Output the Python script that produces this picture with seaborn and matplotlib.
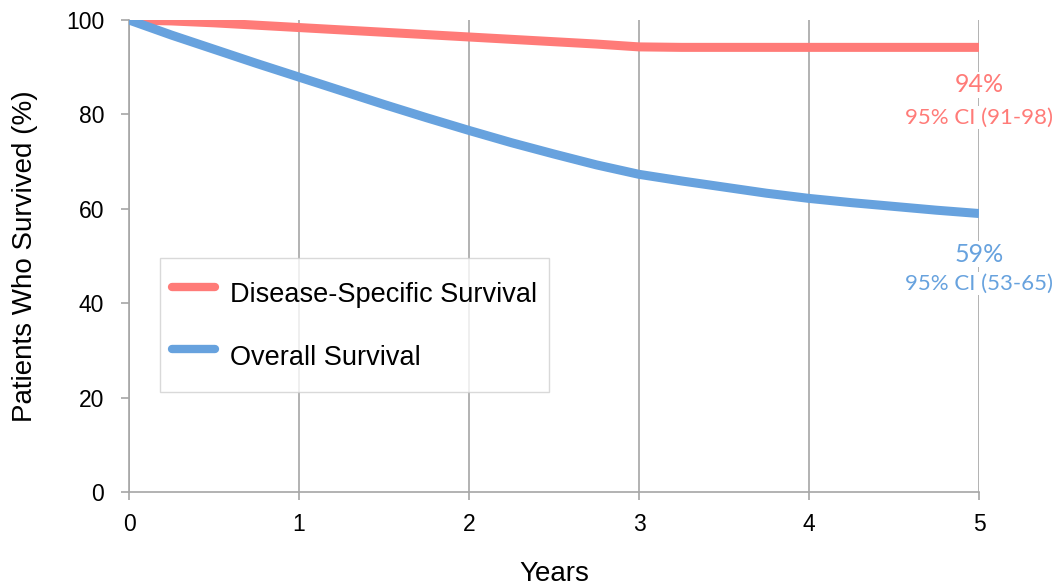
import numpy as np
import pandas as pd
import matplotlib
matplotlib.use("Agg")
import matplotlib.pyplot as plt
import seaborn as sns

years = [0, 0.25, 0.5, 0.75, 1.0, 1.25, 1.5, 1.75, 2.0, 2.25, 2.5, 2.75,
         3.0, 3.25, 3.5, 3.75, 4.0, 4.25, 4.5, 4.75, 5.0]
dss = [100, 99.8, 99.4, 98.9, 98.4, 97.9, 97.4, 96.9, 96.4, 95.9, 95.4, 94.9,
       94.3, 94.2, 94.2, 94.2, 94.2, 94.2, 94.2, 94.2, 94.2]
os_ = [100, 96.8, 93.8, 90.8, 87.9, 85.0, 82.1, 79.3, 76.6, 74.0, 71.6, 69.3,
       67.3, 65.9, 64.6, 63.3, 62.2, 61.3, 60.5, 59.7, 59.0]
series = ["Disease-Specific Survival", "Overall Survival"]
end_labels = ["94%", "59%"]
ci_labels = ["95% CI (91-98)", "95% CI (53-65)"]

sns.set_theme(style="white")
plt.rcParams['font.family'] = ['Liberation Sans', 'DejaVu Sans']
plt.rcParams['text.color'] = 'black'
plt.rcParams['axes.labelcolor'] = 'black'

df = pd.DataFrame({
    "Years": years * 2,
    "Survival": dss + os_,
    "Series": [series[0]] * len(years) + [series[1]] * len(years),
})

colors = {series[0]: "#FF7B78", series[1]: "#67A2DE"}

fig = plt.figure(figsize=(10.6, 5.88), dpi=100)
ax = fig.add_axes([0.1217, 0.1633, 0.8019, 0.8027])

sns.lineplot(data=df, x="Years", y="Survival", hue="Series", palette=colors,
             linewidth=6.5, ax=ax, zorder=3, solid_capstyle="butt")

ax.set_xlim(0, 5)
ax.set_ylim(0, 100)
ax.set_xticks(range(0, 6))
ax.set_yticks(range(0, 101, 20))
ax.tick_params(axis="both", labelsize=16.5, length=6, width=1.2, color="#A6A6A6",
               direction="out", bottom=True, left=True, labelcolor="black")
ax.tick_params(axis="x", pad=9)
ax.tick_params(axis="y", pad=12)
ax.xaxis.grid(True, color="#A6A6A6", linewidth=1.2, zorder=0)
ax.yaxis.grid(False)
for s in ["top", "right"]:
    ax.spines[s].set_visible(False)
for s in ["left", "bottom"]:
    ax.spines[s].set_color("#A6A6A6")
    ax.spines[s].set_linewidth(1.2)

ax.set_xlabel("Years", fontsize=20, labelpad=18)
ax.set_ylabel("Patients Who Survived (%)", fontsize=20, labelpad=20)

leg = ax.legend(loc="upper left", bbox_to_anchor=(0.036, 0.495), fontsize=19.5,
                frameon=True, fancybox=False, edgecolor="#D0D0D0",
                handlelength=1.6, handletextpad=0.55, labelspacing=0.55,
                handleheight=2.3, borderpad=0.45, borderaxespad=0)
for h in leg.get_lines():
    h.set_linewidth(6)
    h.set_solid_capstyle("round")
leg.set_title(None)

ann_font = ['Lato', 'DejaVu Sans']
ypos_main = [86.3, 50.4]
ypos_ci = [79.3, 44.1]
for i, s in enumerate(series):
    c = colors[s]
    ax.text(5, ypos_main[i], end_labels[i], ha="center", va="center", fontsize=18,
            color=c, family=ann_font, zorder=5,
            bbox=dict(facecolor="white", edgecolor="none", pad=1))
    ax.text(5, ypos_ci[i], ci_labels[i], ha="center", va="center", fontsize=16,
            color=c, family=ann_font, zorder=5,
            bbox=dict(facecolor="white", edgecolor="none", pad=1))

fig.savefig("out.png", dpi=100)
